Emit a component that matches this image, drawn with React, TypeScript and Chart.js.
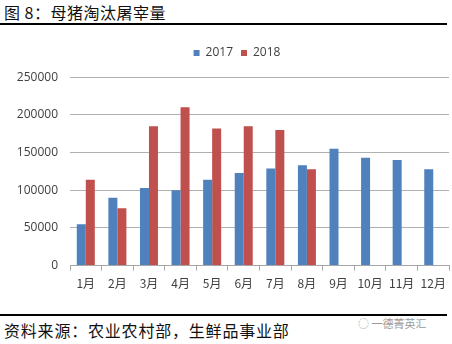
import React, { useEffect, useRef } from "react";
import { Chart, registerables } from "chart.js";

Chart.register(...registerables);

const categories = ["1月", "2月", "3月", "4月", "5月", "6月", "7月", "8月", "9月", "10月", "11月", "12月"];
const series2017 = [55000, 90000, 103000, 100000, 114000, 123000, 129000, 133000, 155000, 143000, 140000, 128000];
const series2018 = [114000, 76000, 185000, 210000, 182000, 185000, 180000, 128000, null, null, null, null];
const yTicks = [0, 50000, 100000, 150000, 200000, 250000];

const titleText = "图 8：母猪淘汰屠宰量";
const sourceText = "资料来源：农业农村部，生鲜品事业部";
const watermark = "一德菁英汇";

const legendShift = {
  id: "legendShift",
  afterLayout(chart: any) {
    if (chart.legend) chart.legend.left += 24;
  },
};

export default function App() {
  const ref = useRef<HTMLCanvasElement | null>(null);

  useEffect(() => {
    if (!ref.current) return;
    const chart = new Chart(ref.current, {
      type: "bar",
      data: {
        labels: categories,
        datasets: [
          { label: "2017", data: series2017, backgroundColor: "#4F81BD", categoryPercentage: 0.57, barPercentage: 1 },
          { label: "2018", data: series2018, backgroundColor: "#C0504D", categoryPercentage: 0.57, barPercentage: 1 },
        ],
      },
      plugins: [legendShift],
      options: {
        animation: false,
        responsive: false,
        maintainAspectRatio: false,
        layout: { padding: { top: 15, right: 2, bottom: 10, left: 0 } },
        plugins: {
          legend: {
            position: "top",
            labels: {
              boxWidth: 6,
              boxHeight: 6,
              padding: 8,
              color: "#404040",
              font: { family: "'Open Sans', 'Liberation Sans', sans-serif", size: 12 },
            },
          },
          subtitle: {
            display: true,
            text: " ",
            position: "top",
            weight: 500,
            font: { size: 1 },
            padding: { top: 0, bottom: 7 },
          } as any,
          tooltip: { enabled: false },
        },
        scales: {
          x: {
            grid: {
              offset: true,
              drawOnChartArea: false,
              drawTicks: true,
              tickLength: 5,
              color: "#a6a6a6",
            },
            border: { display: true, color: "#a6a6a6" },
            ticks: {
              padding: 6,
              color: "#404040",
              font: { family: "'Noto Sans CJK SC', sans-serif", size: 12 },
              maxRotation: 0,
              autoSkip: false,
            },
          },
          y: {
            min: 0,
            max: 250000,
            afterFit: (scale: any) => {
              scale.width = 70;
            },
            afterBuildTicks: (scale: any) => {
              scale.ticks = yTicks.map((v) => ({ value: v }));
            },
            grid: { drawTicks: false, color: "#b0b0b0" },
            border: { display: false },
            ticks: {
              padding: 12,
              color: "#404040",
              font: { family: "'Open Sans', 'Liberation Sans', sans-serif", size: 12 },
              callback: (v: any) => String(v),
            },
          },
        },
      },
    });
    return () => chart.destroy();
  }, []);

  return (
    <div style={{ position: "fixed", left: 0, top: 0, width: 452, height: 344, background: "#fff", overflow: "hidden" }}>
      <div
        style={{
          position: "absolute",
          left: 4,
          top: 2,
          fontFamily: "'Noto Sans CJK SC', sans-serif",
          fontSize: 16,
          lineHeight: "20px",
          letterSpacing: 0.5,
          color: "#111",
          whiteSpace: "nowrap",
        }}
      >
        {titleText}
      </div>
      <div style={{ position: "absolute", left: 0, top: 23, width: 447, height: 2, background: "#000" }} />
      <div style={{ position: "absolute", left: 0, top: 24, width: 452, height: 283 }}>
        <canvas ref={ref} width={452} height={283} style={{ width: 452, height: 283 }} />
      </div>
      <div style={{ position: "absolute", left: 0, top: 314, width: 447, height: 2, background: "#000" }} />
      <div
        style={{
          position: "absolute",
          left: 4,
          top: 320,
          fontFamily: "'Noto Sans CJK SC', sans-serif",
          fontSize: 16,
          lineHeight: "20px",
          letterSpacing: 0.8,
          color: "#111",
          whiteSpace: "nowrap",
        }}
      >
        {sourceText}
      </div>
      <div
        style={{
          position: "absolute",
          left: 358,
          top: 316,
          fontFamily: "'Noto Sans CJK SC', sans-serif",
          fontSize: 11,
          lineHeight: "14px",
          color: "#9a9a9a",
          whiteSpace: "nowrap",
        }}
      >
        {"◌ " + watermark}
      </div>
    </div>
  );
}
